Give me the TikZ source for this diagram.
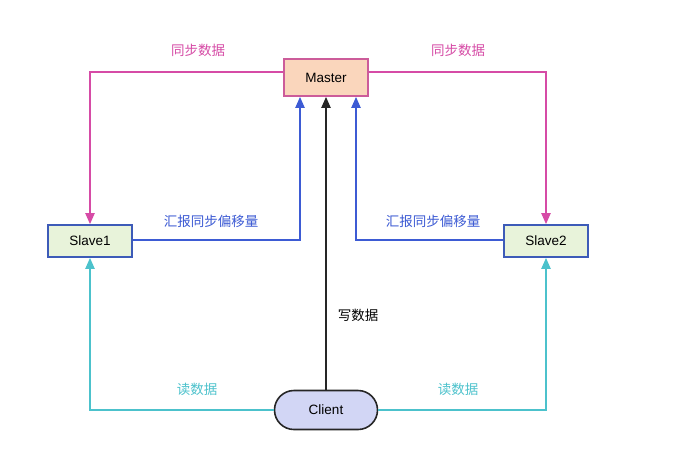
\documentclass[tikz,border=0pt]{standalone}
\usepackage{fontspec}
\setmainfont{Liberation Sans}
\newfontfamily\cjk{Noto Sans CJK SC}
\usetikzlibrary{arrows.meta,shapes.misc}
\definecolor{pinkc}{HTML}{D64BA6}
\definecolor{bluec}{HTML}{3D5BD4}
\definecolor{cyanc}{HTML}{4CC2CC}
\definecolor{masterfill}{HTML}{FAD6BC}
\definecolor{masterdraw}{HTML}{CC5C9A}
\definecolor{slavefill}{HTML}{E8F3DA}
\definecolor{slavedraw}{HTML}{3D5BB8}
\definecolor{clientfill}{HTML}{D2D6F5}
\tikzset{
  boxnode/.style={draw, line width=1.6pt, minimum width=84pt, minimum height=33pt, font=\fontsize{13.5}{15}\selectfont, inner sep=0pt},
  conn/.style={line width=2pt, -{Triangle[width=9pt,length=11pt]}},
  lbl/.style={font=\cjk\fontsize{13.5}{15}\selectfont, inner sep=1pt},
}
\begin{document}
\begin{tikzpicture}[x=1pt,y=-1pt]
\useasboundingbox[fill=white] (0,0) rectangle (700,467);
\node[boxnode, fill=masterfill, draw=masterdraw, minimum height=37pt] (master) at (326,77.5) {Master};
\node[boxnode, fill=slavefill, draw=slavedraw, minimum height=32pt] (slave1) at (90,241) {Slave1};
\node[boxnode, fill=slavefill, draw=slavedraw, minimum height=32pt] (slave2) at (546,241) {Slave2};
\node[boxnode, rounded rectangle, fill=clientfill, draw=black!85, minimum width=103pt, minimum height=39pt] (client) at (326,410) {Client};
% sync data
\draw[conn, pinkc] ([yshift=5.5pt]master.west) -| (slave1.north);
\draw[conn, pinkc] ([yshift=5.5pt]master.east) -| (slave2.north);
% report offsets
\draw[conn, bluec] ([yshift=1pt]slave1.east) -| ([xshift=-26pt]master.south);
\draw[conn, bluec] ([yshift=1pt]slave2.west) -| ([xshift=30pt]master.south);
% write
\draw[conn, black!85] (client.north) -- (master.south);
% read
\draw[conn, cyanc] (client.west) -| (slave1.south);
\draw[conn, cyanc] (client.east) -| (slave2.south);
% labels
\node[lbl, text=pinkc] (l1) at (198,50) {同步数据};
\node[lbl, text=pinkc] (l2) at (458,50) {同步数据};
\node[lbl, text=bluec] (l3) at (211,221) {汇报同步偏移量};
\node[lbl, text=bluec] (l4) at (433,221) {汇报同步偏移量};
\node[lbl, text=black] (l5) at (358,315) {写数据};
\node[lbl, text=cyanc] (l6) at (197,389) {读数据};
\node[lbl, text=cyanc] (l7) at (458,389) {读数据};
\end{tikzpicture}
\end{document}
